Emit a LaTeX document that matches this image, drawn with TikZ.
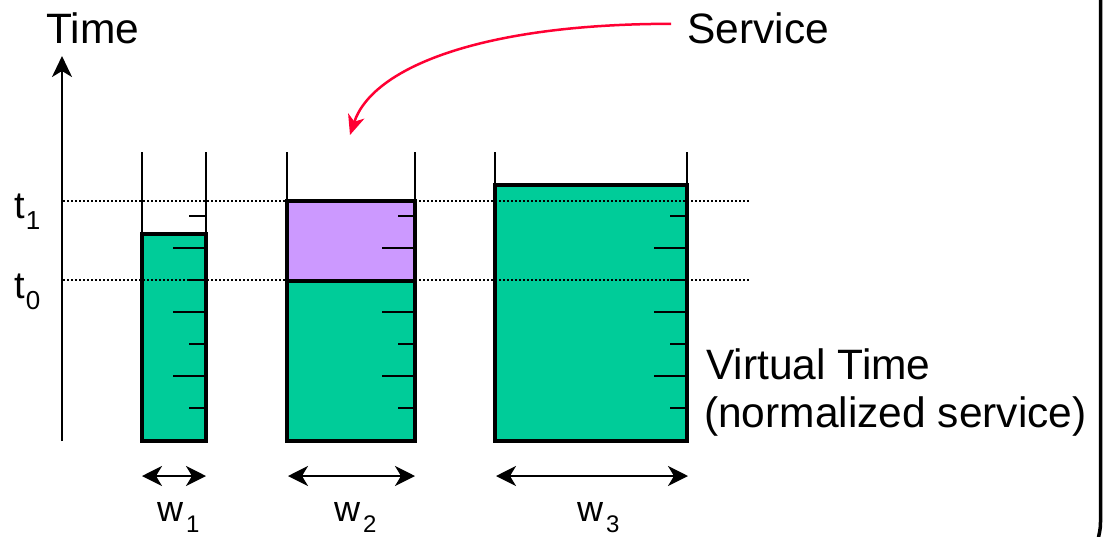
\documentclass[tikz,border=0pt]{standalone}
\usepackage{fontspec}
\setmainfont{Liberation Sans}
\usetikzlibrary{arrows.meta,calc}
\definecolor{levelgreen}{RGB}{0,204,153}
\definecolor{levelviolet}{RGB}{204,153,255}
\definecolor{servicered}{RGB}{255,0,51}
\newcommand{\lowsub}[3]{\raisebox{-#2}{\fontsize{#1}{#1}\selectfont #3}}
\begin{document}
\begin{tikzpicture}[x=1pt,y=-1pt,
  wall/.style={line width=2.4pt},
  level/.style={draw=black,line width=3.2pt},
  scalemark/.style={line width=2.8pt},
  guide/.style={line width=1.5pt,dash pattern=on 1.5pt off 2.5pt},
  widthspan/.style={line width=2.2pt,{Stealth[length=20pt,width=20pt,inset=6pt]}-{Stealth[length=20pt,width=20pt,inset=6pt]}},
  bigtext/.style={inner sep=0pt,anchor=base west,font=\fontsize{42.5}{50}\selectfont},
  midtext/.style={inner sep=0pt,anchor=base west,font=\fontsize{36}{40}\selectfont}]
\useasboundingbox (0,0) rectangle (1112,536);

% time axis
\coordinate (axisfoot) at (62,441);
\coordinate (axistop) at (62,56);
\draw[line width=2.4pt,-{Stealth[length=21pt,width=20pt,inset=6pt]}] (axisfoot) -- (axistop);
\node[bigtext] (timelbl) at (46,43) {Time};

% beaker 1
\draw[wall] (142,152) -- (142,441) (206,152) -- (206,441);
\draw[level,fill=levelgreen] (142,234) rectangle (206,441);
% beaker 2
\draw[wall] (287,152) -- (287,441) (415,152) -- (415,441);
\draw[level,fill=levelviolet] (287,201) rectangle (415,281);
\draw[level,fill=levelgreen] (287,281) rectangle (415,441);
% beaker 3
\draw[wall] (495,152) -- (495,441) (687,152) -- (687,441);
\draw[level,fill=levelgreen] (495,185) rectangle (687,441);

% scale marks on each right wall
\foreach \xr in {206,415,687}{
  \foreach \k in {0,...,6}{
    \pgfmathsetmacro{\yy}{216+32*\k}
    \pgfmathsetmacro{\len}{isodd(\k) ? 33 : 17}
    \draw[scalemark] (\xr-\len,\yy) -- (\xr,\yy);
  }
}

% time levels
\draw[guide] (63,201) -- (750,201);
\draw[guide] (63,280) -- (750,280);
\node[midtext,font=\fontsize{38}{40}\selectfont] (tone) at (14,218) {t\kern1pt\lowsub{26}{11pt}{1}};
\node[midtext,font=\fontsize{38}{40}\selectfont] (tzero) at (14,298) {t\kern1pt\lowsub{26}{11pt}{0}};

% service arrow
\node[bigtext] (service) at (687,43) {Service};
\coordinate (servicetip) at (350,135);
\draw[servicered,line width=2.5pt,-{Stealth[length=20pt,width=17pt,inset=6pt]}]
  ($(service.west)+(-16,-4)$) .. controls (480,24) and (372,68) .. (servicetip);

% virtual time label
\node[bigtext] (vtime) at (706,379) {Virtual Time};
\node[bigtext] (vnorm) at (704,427) {(normalized service)};

% widths
\coordinate (w1l) at (142,476); \coordinate (w1r) at (206,476);
\coordinate (w2l) at (288,476); \coordinate (w2r) at (415,476);
\coordinate (w3l) at (496,476); \coordinate (w3r) at (688,476);
\draw[widthspan] (w1l) -- (w1r);
\draw[widthspan] (w2l) -- (w2r);
\draw[widthspan] (w3l) -- (w3r);
\node[midtext] (wone) at (157,521) {w\kern3pt\lowsub{24}{11pt}{1}};
\node[midtext] (wtwo) at (334,521) {w\kern3pt\lowsub{24}{11pt}{2}};
\node[midtext] (wthree) at (577,521) {w\kern3pt\lowsub{24}{11pt}{3}};

% right frame edge
\draw[line width=3.5pt] (1100.5,-3) -- (1100.5,522) .. controls (1100.5,530) and (1099,534) .. (1098,540);
\end{tikzpicture}
\end{document}
